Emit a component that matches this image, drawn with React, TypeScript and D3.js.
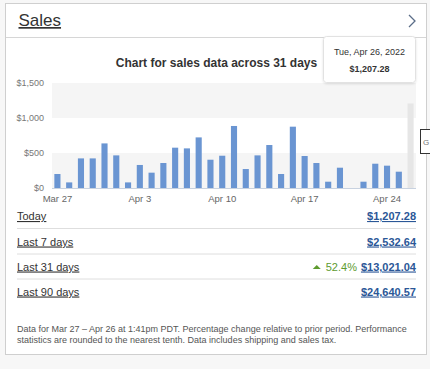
import { useEffect, useRef } from "react";
import * as d3 from "d3";

// daily sales, Mar 27 .. Apr 26 2022 (last day is the hovered one)
const salesValues = [
  200, 80, 423, 423, 637, 466, 80, 329, 219, 357, 576, 566, 723, 404, 461, 886,
  271, 466, 614, 200, 876, 457, 357, 90, 290, 0, 90, 347, 319, 233, 1207.28,
];
const startDay = new Date(2022, 2, 27);
const days = d3.timeDay.range(startDay, d3.timeDay.offset(startDay, salesValues.length));
const yTicks = [0, 500, 1000, 1500];
const xTickEvery = 7;

const periodLabels = ["Today", "Last 7 days", "Last 31 days", "Last 90 days"];
const periodValues = ["$1,207.28", "$2,532.64", "$13,021.04", "$24,640.57"];
const periodChange = ["", "", "52.4%", ""];

const footnote = [
  "Data for Mar 27 \u2013 Apr 26 at 1:41pm PDT. Percentage change relative to prior period. Performance",
  "statistics are rounded to the nearest tenth. Data includes shipping and sales tax.",
];

const FONT = "'Liberation Sans', Arial, sans-serif";

export default function App() {
  const svgRef = useRef<SVGSVGElement>(null);

  useEffect(() => {
    document.body.style.margin = "0";
    const el = svgRef.current;
    if (!el) return;
    const svg = d3.select(el);
    svg.selectAll("*").remove();

    const W = 430;
    const H = 369;

    svg.append("rect").attr("width", W).attr("height", H).attr("fill", "#f7f7f7");

    const defs = svg.append("defs");
    const f = defs.append("filter").attr("id", "shadow").attr("x", "-20%").attr("y", "-20%").attr("width", "140%").attr("height", "160%");
    f.append("feDropShadow").attr("dx", 0).attr("dy", 1).attr("stdDeviation", 1.2).attr("flood-color", "#000").attr("flood-opacity", 0.12);

    // card
    svg.append("rect")
      .attr("x", 5.5).attr("y", 3.5).attr("width", 421).attr("height", 351)
      .attr("fill", "#fff").attr("stroke", "#cfcfcf");
    svg.append("line")
      .attr("x1", 6).attr("x2", 426).attr("y1", 37.5).attr("y2", 37.5)
      .attr("stroke", "#d6d6d6");

    svg.append("text")
      .attr("x", 18.5).attr("y", 26)
      .attr("font-family", FONT).attr("font-size", 17).attr("fill", "#333")
      .style("text-decoration", "underline")
      .text("Sales");

    svg.append("path")
      .attr("d", "M409,15 L415,21 L409,27")
      .attr("fill", "none").attr("stroke", "#5b6d88").attr("stroke-width", 1.3);

    svg.append("text")
      .attr("x", 216.5).attr("y", 66.5).attr("text-anchor", "middle")
      .attr("font-family", FONT).attr("font-size", 12).attr("font-weight", "bold").attr("fill", "#333")
      .text("Chart for sales data across 31 days");

    // chart
    const x = d3.scaleBand<Date>().domain(days).range([52, 416]).paddingInner(0.48).paddingOuter(0.2);
    const y = d3.scaleLinear().domain([0, 1500]).range([188, 83]);

    const bands = d3.pairs(yTicks).filter((_, i) => i % 2 === 0);
    svg.append("g").selectAll("rect").data(bands).enter().append("rect")
      .attr("x", 52).attr("width", 364)
      .attr("y", (d) => y(d[1])).attr("height", (d) => y(d[0]) - y(d[1]))
      .attr("fill", "#f5f5f5");

    svg.append("g").selectAll("text").data(yTicks).enter().append("text")
      .attr("x", 44).attr("y", (d) => y(d) + 3).attr("text-anchor", "end")
      .attr("font-family", FONT).attr("font-size", 9).attr("fill", "#777")
      .text((d) => d3.format("$,")(d));

    const last = salesValues.length - 1;
    svg.append("g").selectAll("rect").data(salesValues).enter().append("rect")
      .attr("x", (_, i) => x(days[i])!)
      .attr("width", x.bandwidth())
      .attr("y", (d) => y(d))
      .attr("height", (d) => y(0) - y(d))
      .attr("fill", (_, i) => (i === last ? "#e6e6e6" : "#6a95d2"));

    svg.append("line")
      .attr("x1", 52).attr("x2", 416).attr("y1", y(0) + 0.5).attr("y2", y(0) + 0.5)
      .attr("stroke", "#c8d2e0");

    const xTicks = days.filter((_, i) => i % xTickEvery === 0);
    svg.append("g").selectAll("text").data(xTicks).enter().append("text")
      .attr("x", (d) => x(d)! + x.bandwidth() / 2).attr("y", 202).attr("text-anchor", "middle")
      .attr("font-family", FONT).attr("font-size", 9.5).attr("fill", "#666")
      .text((d) => d3.timeFormat("%b %-d")(d));

    // period rows
    const rowY = [220, 245.5, 270.5, 295.5];
    svg.append("g").selectAll("line").data(rowY.slice(0, 3)).enter().append("line")
      .attr("x1", 17).attr("x2", 416).attr("y1", (d) => d + 8.5).attr("y2", (d) => d + 8.5)
      .attr("stroke", "#dedede");

    periodLabels.forEach((lab, i) => {
      svg.append("text")
        .attr("x", 17).attr("y", rowY[i])
        .attr("font-family", FONT).attr("font-size", 11).attr("fill", "#333")
        .style("text-decoration", "underline")
        .text(lab);
      const val = svg.append("text")
        .attr("x", 416).attr("y", rowY[i]).attr("text-anchor", "end")
        .attr("font-family", FONT).attr("font-size", 11).attr("font-weight", "bold").attr("fill", "#2b5797")
        .style("text-decoration", "underline")
        .text(periodValues[i]);
      if (periodChange[i]) {
        const vw = (val.node() as SVGTextElement).getComputedTextLength();
        const cx = 416 - vw - 4;
        const ct = svg.append("text")
          .attr("x", cx).attr("y", rowY[i]).attr("text-anchor", "end")
          .attr("font-family", FONT).attr("font-size", 11).attr("fill", "#5e9b2f")
          .text(periodChange[i]);
        const cw = (ct.node() as SVGTextElement).getComputedTextLength();
        const tx = cx - cw - 5;
        svg.append("path")
          .attr("d", `M${tx - 8},${rowY[i] - 1.5} L${tx},${rowY[i] - 1.5} L${tx - 4},${rowY[i] - 5.5} Z`)
          .attr("fill", "#5e9b2f");
      }
    });

    footnote.forEach((line, i) => {
      svg.append("text")
        .attr("x", 17).attr("y", 332 + i * 10.5)
        .attr("font-family", FONT).attr("font-size", 9).attr("fill", "#555")
        .text(line);
    });

    // hover tooltip for last bar
    const tip = svg.append("g");
    tip.append("rect")
      .attr("x", 323.5).attr("y", 36.5).attr("width", 92).attr("height", 46).attr("rx", 3)
      .attr("fill", "#fff").attr("stroke", "#e2e2e2").attr("filter", "url(#shadow)");
    tip.append("text")
      .attr("x", 369.5).attr("y", 54.5).attr("text-anchor", "middle")
      .attr("font-family", FONT).attr("font-size", 9).attr("fill", "#333")
      .text(d3.timeFormat("%a, %b %-d, %Y")(days[last]));
    tip.append("text")
      .attr("x", 369.5).attr("y", 71.5).attr("text-anchor", "middle")
      .attr("font-family", FONT).attr("font-size", 9).attr("font-weight", "bold").attr("fill", "#333")
      .text(d3.format("$,.2f")(salesValues[last]));

    // overlay at right edge (partly outside the window)
    svg.append("rect")
      .attr("x", 420.5).attr("y", 129.5).attr("width", 20).attr("height", 24)
      .attr("fill", "#fff").attr("stroke", "#333");
    svg.append("text")
      .attr("x", 423).attr("y", 144.5).attr("font-family", FONT).attr("font-size", 8).attr("fill", "#777")
      .text("G");
  }, []);

  return (
    <svg
      ref={svgRef}
      width={430}
      height={369}
      style={{ position: "absolute", left: 0, top: 0, display: "block" }}
    />
  );
}
